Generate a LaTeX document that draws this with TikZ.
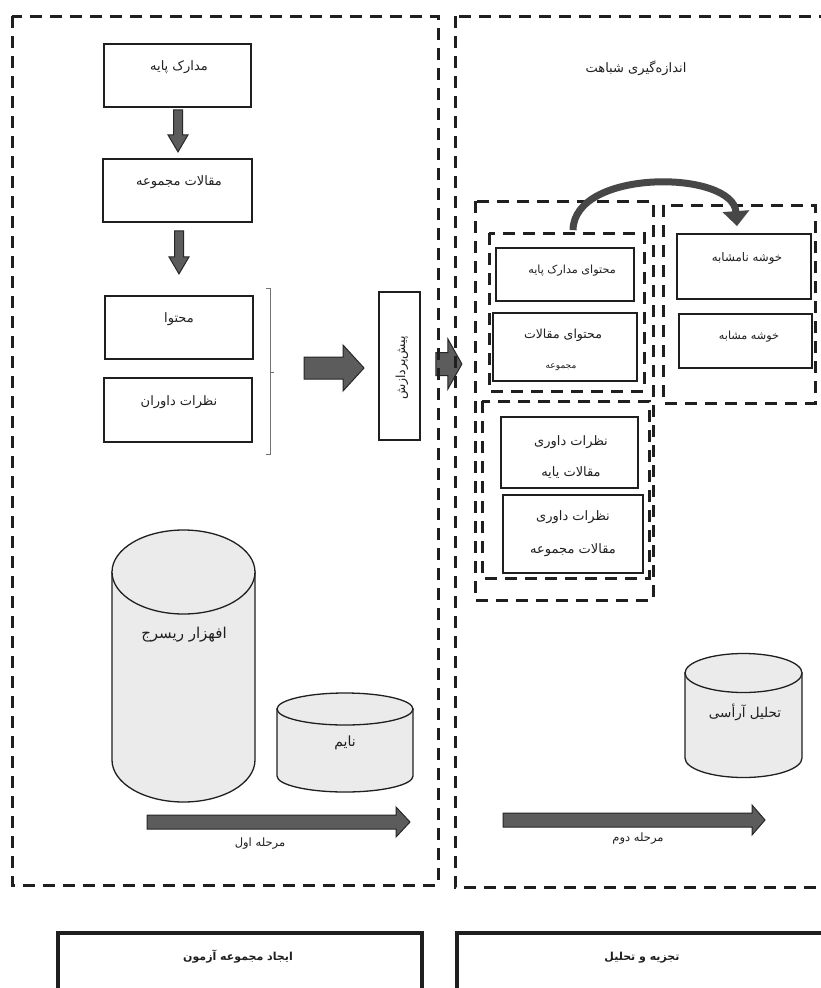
\documentclass[tikz,border=0pt]{standalone}
\usepackage{fontspec}
\usetikzlibrary{arrows.meta,calc}
\newfontfamily\arabicfont[Script=Arabic]{DejaVu Sans}
\TeXXeTstate=1
\newcommand\fatext[1]{{\arabicfont\beginR #1\endR}}

\tikzset{
  dashbox/.style={draw=black!88, line width=3pt, dash pattern=on 12pt off 8pt},
  stepbox/.style={draw=black!88, line width=1.8pt, rectangle, inner sep=0pt},
  txt/.style={font=\arabicfont\fontsize{13}{15}\selectfont, text=black!88, inner sep=0pt, align=center},
  fs/.style={font=\arabicfont\fontsize{#1}{#1}\selectfont},
  smalltxt/.style={txt, font=\arabicfont\fontsize{9}{11}\selectfont},
  headtxt/.style={txt, font=\arabicfont\bfseries\fontsize{11}{13}\selectfont},
  blockarrow/.style={fill=black!64, draw=black!85, line width=1pt, line join=miter},
  drum/.style={fill=black!8, draw=black!88, line width=1.3pt},
  bracket/.style={draw=black!55, line width=0.8pt},
  phasebox/.style={draw=black!88, line width=3.5pt},
}

\begin{document}
\begin{tikzpicture}[x=1pt, y=-1pt]
\useasboundingbox (0,0) rectangle (821,988);
\clip (0,0) rectangle (821,988);
\fill[white] (0,0) rectangle (821,988);

% ---------- first stage: building the test collection ----------
\node[stepbox, minimum width=147pt, minimum height=63pt] (b1) at (177.5,75.5) {};
\node[txt] (t1) at (179,67) {\fatext{مدارک پایه}};
\node[stepbox, minimum width=149pt, minimum height=63pt] (b2) at (177.5,190.5) {};
\node[txt] (t2) at (179,182) {\fatext{مقالات مجموعه}};
\node[stepbox, minimum width=148pt, minimum height=63pt] (b3) at (179,327.5) {};
\node[txt] (t3) at (179,319) {\fatext{محتوا}};
\node[stepbox, minimum width=148pt, minimum height=64pt] (b4) at (178,410) {};
\node[txt] (t4) at (179,402) {\fatext{نظرات داوران}};

% down arrows between the first boxes
\coordinate (a1) at ($(b1.south)+(0.5,2)$);
\begin{scope}[shift={(a1)}]
  \filldraw[blockarrow] (-4.5,0) -- (4.5,0) -- (4.5,25) -- (10,25) -- (0,42) -- (-10,25) -- (-4.5,25) -- cycle;
\end{scope}
\coordinate (a2) at ($(b2.south)+(1.5,8)$);
\begin{scope}[shift={(a2)}]
  \filldraw[blockarrow] (-4.5,0) -- (4.5,0) -- (4.5,26) -- (10,26) -- (0,43) -- (-10,26) -- (-4.5,26) -- cycle;
\end{scope}

% bracket grouping content and reviews
\draw[bracket] (266,288) -- (270,288) -- (270,454) -- (266,454);
\draw[bracket] (270,372) -- (274,372);

% arrow into preprocessing
\coordinate (a3) at (304,368);
\begin{scope}[shift={(a3)}]
  \filldraw[blockarrow] (0,-11) -- (39,-11) -- (39,-23) -- (60,0) -- (39,23) -- (39,11) -- (0,11) -- cycle;
\end{scope}

\node[stepbox, minimum width=41pt, minimum height=148pt] (pre) at (399.5,366) {};
\node[txt, fs=12.5, rotate=90] (pret) at (402,368) {\fatext{پیش‌پردازش}};

% arrow from preprocessing into the second stage
\coordinate (a4) at ($(pre.east)+(15,-2)$);
\begin{scope}[shift={(a4)}]
  \filldraw[blockarrow] (0,-11.5) -- (12,-11.5) -- (12,-25) -- (26,0) -- (12,25) -- (12,11.5) -- (0,11.5) -- cycle;
\end{scope}

% databases of the first stage
\filldraw[drum] (112,572) -- (112,760) arc[start angle=180, end angle=0, x radius=71.5, y radius=42] -- (255,572) -- cycle;
\filldraw[drum] (183.5,572) ellipse [x radius=71.5, y radius=42];
\node[txt, fs=15] (cy1) at (184,635) {\fatext{افهزار ریسرج}};

\filldraw[drum] (277,709) -- (277,776) arc[start angle=180, end angle=0, x radius=68, y radius=16] -- (413,709) -- cycle;
\filldraw[drum] (345,709) ellipse [x radius=68, y radius=16];
\node[txt, fs=14] (cy2) at (345,743) {\fatext{نایم}};

% stage arrow
\coordinate (p1) at (147,822);
\begin{scope}[shift={(p1)}]
  \filldraw[blockarrow] (0,-7) -- (249,-7) -- (249,-15) -- (263,0) -- (249,15) -- (249,7) -- (0,7) -- cycle;
\end{scope}
\node[txt, fs=11.5] (p1t) at (260,844) {\fatext{مرحله اول}};

% ---------- second stage: analysis ----------
\node[txt] (title) at (636,68) {\fatext{اندازه‌گیری شباهت}};

\node[stepbox, minimum width=138pt, minimum height=53pt] (c1) at (565,274.5) {};
\node[txt, fs=11.2] (c1t) at (572,271) {\fatext{محتوای مدارک پایه}};
\node[stepbox, minimum width=144pt, minimum height=68pt] (c2) at (565,347) {};
\node[txt, fs=12.5] (c2t) at (563,335) {\fatext{محتوای مقالات}};
\node[smalltxt] (c2u) at (561,367) {\fatext{مجموعه}};

\node[stepbox, minimum width=137pt, minimum height=71pt] (r1) at (569.5,452.5) {};
\node[txt] (r1t) at (571,442) {\fatext{نظرات داوری}};
\node[txt] (r1u) at (571,473) {\fatext{مقالات یایه}};
\node[stepbox, minimum width=140pt, minimum height=78pt] (r2) at (573,534) {};
\node[txt] (r2t) at (573,517) {\fatext{نظرات داوری}};
\node[txt] (r2u) at (573,550) {\fatext{مقالات مجموعه}};

\node[stepbox, minimum width=134pt, minimum height=65pt] (k1) at (744,266.5) {};
\node[txt, fs=11.8] (k1t) at (747,258) {\fatext{خوشه نامشابه}};
\node[stepbox, minimum width=133pt, minimum height=54pt] (k2) at (745.5,341) {};
\node[txt, fs=11.2] (k2t) at (749,337) {\fatext{خوشه مشابه}};

% dashed groupings
\draw[dashbox] (475,201) rectangle (653,600);
\draw[dashbox] (489,233) rectangle (644,391);
\draw[dashbox] (482,401) rectangle (649,578);
\draw[dashbox] (663,205) rectangle (815,403);

% analysis database
\filldraw[drum] (685,673) -- (685,758) arc[start angle=180, end angle=0, x radius=58.5, y radius=19.5] -- (802,673) -- cycle;
\filldraw[drum] (743.5,673) ellipse [x radius=58.5, y radius=19.5];
\node[txt, fs=13.5] (cy3) at (745,712) {\fatext{تحلیل آرأسی}};

% stage arrow
\coordinate (p2) at (503,820);
\begin{scope}[shift={(p2)}]
  \filldraw[blockarrow] (0,-7) -- (249,-7) -- (249,-15) -- (262,0) -- (249,15) -- (249,7) -- (0,7) -- cycle;
\end{scope}
\node[txt, fs=11.5] (p2t) at (638,839) {\fatext{مرحله دوم}};

% stage frames
\draw[dashbox] (12,16) rectangle (438,885);
\draw[dashbox] (455,16) rectangle (832,887);

% curved arrow from the content group to the clusters
\coordinate (ca) at ($(c1.north)+(8,-17)$);
\coordinate (cb) at ($(k1.north)+(-7,-7)$);
\draw[draw=black!72, line width=7pt, -{Triangle[length=15pt,width=26pt]}]
  (ca) .. controls (574,168) and (733,170) .. (cb);

% ---------- stage captions ----------
\draw[phasebox] (58,1000) -- (58,933) -- (422,933) -- (422,1000);
\node[headtxt] (h1) at (238,957) {\fatext{ایجاد مجموعه آزمون}};
\draw[phasebox] (457,1000) -- (457,933) -- (840,933);
\node[headtxt] (h2) at (642,958) {\fatext{تجزیه و تحلیل}};
\end{tikzpicture}
\end{document}
